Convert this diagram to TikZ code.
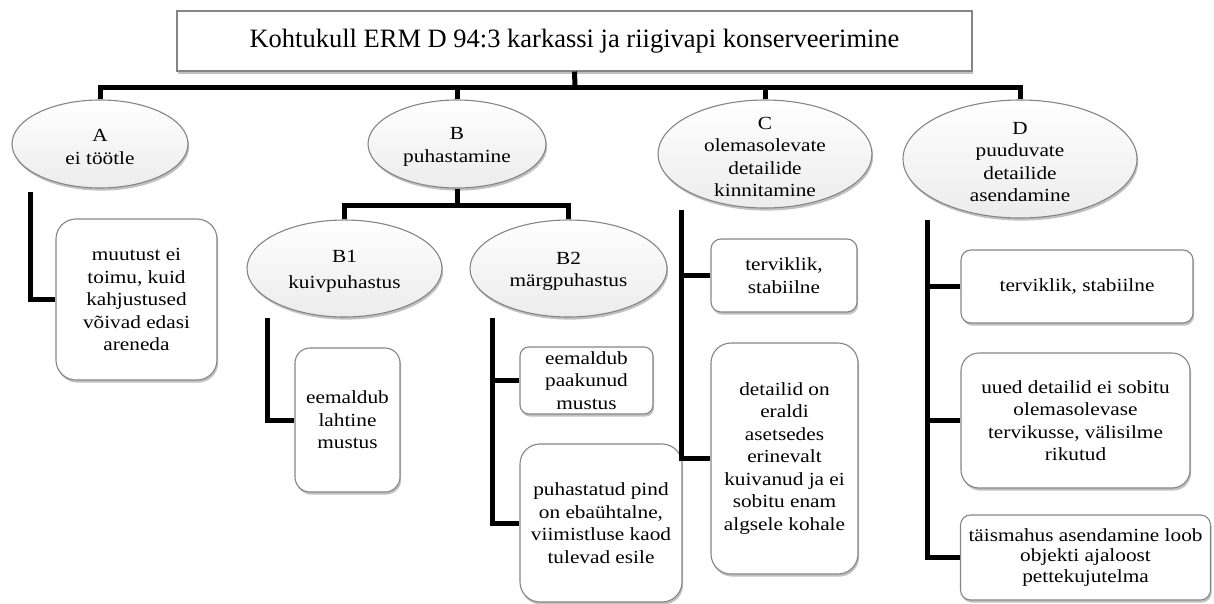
\documentclass[tikz,border=0pt]{standalone}
\usepackage{fontspec}
\setmainfont{Liberation Serif}[FakeStretch=1.15]
\newfontfamily\titlefont{Liberation Serif}
\usetikzlibrary{shapes.geometric,shadows}

\definecolor{rim}{HTML}{858585}
\definecolor{ovalbottom}{HTML}{ECECEC}

\tikzset{
  wire/.style={line width=5pt, line join=miter},
  softshadow/.style={drop shadow={shadow xshift=1.2pt, shadow yshift=-2.6pt, opacity=0.35, fill=black!70}},
  bodytext/.style={align=center, font=\fontsize{18.5}{22.5}\selectfont},
  oval/.style={ellipse, draw=rim, line width=1.1pt, top color=white, bottom color=ovalbottom, softshadow, inner sep=0pt},
  ovaltext/.style={bodytext, inner sep=0pt, yshift=-3pt},
  card/.style={rectangle, draw=rim, line width=1.1pt, fill=white, softshadow, inner sep=0pt, bodytext},
  headbox/.style={rectangle, draw=rim, line width=1.1pt, fill=white, softshadow, inner sep=0pt,
    font=\titlefont\fontsize{26.5}{30}\selectfont},
}

\begin{document}
\begin{tikzpicture}[x=1pt, y=-1pt]
\useasboundingbox (0,0) rectangle (1214,603);

% heading
\node[headbox, minimum width=795pt, minimum height=60pt] (T) at (574.5,41)
  {Kohtukull ERM D 94:3 karkassi ja riigivapi konserveerimine};

% main branches
\node[oval, minimum width=176pt, minimum height=88pt] (A) at (100,144) {};
\node[ovaltext] at (A) {A\\ei töötle};
\node[oval, minimum width=178pt, minimum height=88pt] (B) at (457,144) {};
\node[ovaltext] at (B) {B\\puhastamine};
\node[oval, minimum width=214pt, minimum height=108pt] (C) at (765,154) {};
\node[ovaltext] at (C) {C\\olemasolevate\\detailide\\kinnitamine};
\node[oval, minimum width=234pt, minimum height=118pt] (D) at (1020,159) {};
\node[ovaltext] at (D) {D\\puuduvate\\detailide\\asendamine};

% cleaning sub-branches
\node[oval, minimum width=195pt, minimum height=97pt] (B1) at (344.5,268.5) {};
\node[ovaltext] at (B1) {B1\\[4pt]kuivpuhastus};
\node[oval, minimum width=197pt, minimum height=97pt] (B2) at (568.5,268.5) {};
\node[ovaltext] at (B2) {B2\\märgpuhastus};

% outcome cards
\node[card, rounded corners=20pt, minimum width=161pt, minimum height=161pt] (Ax) at (136.5,299.5)
  {muutust ei\\toimu, kuid\\kahjustused\\võivad edasi\\areneda};
\node[card, rounded corners=15pt, minimum width=105pt, minimum height=144pt] (B1x) at (347.5,420)
  {eemaldub\\lahtine\\mustus};
\node[card, rounded corners=9pt, minimum width=133pt, minimum height=67pt] (B2x) at (586.5,380.5)
  {eemaldub\\paakunud\\mustus};
\node[card, rounded corners=20pt, minimum width=162pt, minimum height=158pt] (B2y) at (601,523)
  {puhastatud pind\\on ebaühtalne,\\viimistluse kaod\\tulevad esile};
\node[card, rounded corners=10pt, minimum width=146pt, minimum height=73pt] (Cx) at (784,275.5)
  {terviklik,\\stabiilne};
\node[card, rounded corners=20pt, minimum width=147pt, minimum height=231pt] (Cy) at (784.5,458.5)
  {detailid on\\eraldi\\asetsedes\\erinevalt\\kuivanud ja ei\\sobitu enam\\algsele kohale};
\node[card, rounded corners=10pt, minimum width=232pt, minimum height=73pt] (Dx) at (1077,286.5)
  {terviklik, stabiilne};
\node[card, rounded corners=18pt, minimum width=229pt, minimum height=135pt] (Dy) at (1075.5,420.5)
  {uued detailid ei sobitu\\olemasolevase\\tervikusse, välisilme\\rikutud};
\node[card, rounded corners=10pt, minimum width=250pt, minimum height=85pt,
      font=\fontsize{18.5}{20.5}\selectfont] (Dz) at (1085.5,557.5)
  {täismahus asendamine loob\\objekti ajaloost\\pettekujutelma};

% junction points and free line ends
\coordinate (bus) at (575,87);
\coordinate (bj) at (457,205);
\coordinate (a0) at (30,192);
\coordinate (b10) at (267,318);
\coordinate (b20) at (492,318);
\coordinate (c0) at (681,210);
\coordinate (d0) at (927,220);

% top-level tree
\draw[wire] (T.south) -- (bus);
\draw[wire] (A.north) |- (bus) -| (D.north);
\draw[wire] (B.north) -- (B.north |- bus);
\draw[wire] (C.north) -- (C.north |- bus);

% cleaning split
\draw[wire] (B.south) -- (bj);
\draw[wire] (B1.north) |- (bj) -| (B2.north);

% outcome lists
\draw[wire] (a0) |- (Ax.west);
\draw[wire] (b10) |- (B1x.west);
\draw[wire] (b20) |- (B2y.west);
\draw[wire] (B2x.west) -- (B2x.west -| b20);
\draw[wire] (c0) |- (Cy.west);
\draw[wire] (Cx.west) -- (Cx.west -| c0);
\draw[wire] (d0) |- (Dz.west);
\draw[wire] (Dx.west) -- (Dx.west -| d0);
\draw[wire] (Dy.west) -- (Dy.west -| d0);
\end{tikzpicture}
\end{document}
